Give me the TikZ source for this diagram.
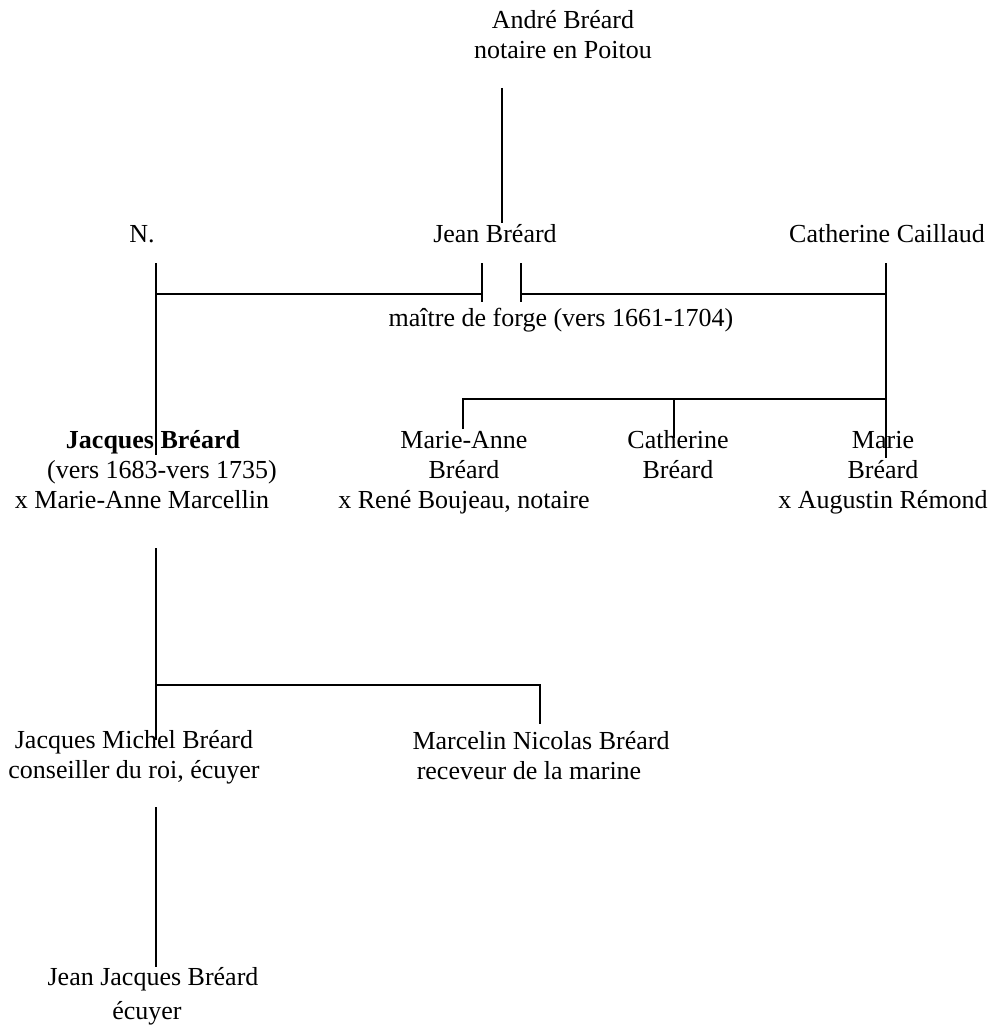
\documentclass[tikz,border=0pt]{standalone}
\usepackage{fontspec}
\setmainfont{Liberation Serif}
\usetikzlibrary{positioning}

\begin{document}
\begin{tikzpicture}[>=stealth, x=1pt, y=-1pt,
		every node/.style={inner sep=0pt, anchor=base, align=center, font=\fontsize{26}{30}\selectfont},
		trait/.style={line width=1.8pt}]
	\useasboundingbox (0,0) rectangle (994,1032);
	%coordinates
	\coordinate (AndreB)   at (502,88);
	\coordinate (JeanH)    at (502,223);
	\coordinate (NH)       at (156,263);
	\coordinate (NB)       at (156,455);
	\coordinate (CoupGH)   at (482,263);
	\coordinate (CoupG)    at (482,294);
	\coordinate (CoupGB)   at (482,302);
	\coordinate (CoupDH)   at (521,263);
	\coordinate (CoupD)    at (521,294);
	\coordinate (CoupDB)   at (521,302);
	\coordinate (CathH)    at (886,263);
	\coordinate (CathB)    at (886,458);
	\coordinate (SoeurG)   at (463,399);
	\coordinate (SoeurGB)  at (463,429);
	\coordinate (SoeurM)   at (674,399);
	\coordinate (SoeurMB)  at (674,438);
	\coordinate (JacqH)    at (156,548);
	\coordinate (JacqB)    at (156,740);
	\coordinate (FilsD)    at (540,685);
	\coordinate (FilsDB)   at (540,724);
	\coordinate (PetitH)   at (156,807);
	\coordinate (PetitB)   at (156,967);
	
	%nodes (base = last line)
	\node (andre)     at (563,59)  {André Bréard\\notaire en Poitou};
	\node (n)         at (142,243) {N.};
	\node (jean)      at (495,243) {Jean Bréard};
	\node (caillaud)  at (887,243) {Catherine Caillaud};
	\node (maitre)    at (561,326) {maître de forge (vers 1661-1704)};
	\node (jacques)   at (153,508) {\textbf{Jacques Bréard}\\\hspace*{18pt}(vers 1683-vers 1735)\\x Marie-Anne Marcellin\hspace*{22pt}};
	\node (marieanne) at (464,508) {Marie-Anne\\Bréard\\x René Boujeau, notaire};
	\node (catherine) at (678,478) {Catherine\\Bréard};
	\node (marie)     at (883,508) {Marie\\Bréard\\x Augustin Rémond};
	\node (jmichel)   at (134,778) {Jacques Michel Bréard\\conseiller du roi, écuyer};
	\node (marcelin)  at (541,779) {Marcelin Nicolas Bréard\\receveur de la marine\hspace*{24pt}};
	\node (jjacques)  at (153,1019) {Jean Jacques Bréard\\[4pt]écuyer\hspace*{12pt}};
	
	\draw[trait] (AndreB) -- (JeanH);
	\draw[trait] (NH) -- (NB);
	\draw[trait] (NH |- CoupG) -- (CoupG);
	\draw[trait] (CoupGH) -- (CoupGB);
	\draw[trait] (CoupDH) -- (CoupDB);
	\draw[trait] (CoupD) -- (CoupD -| CathH);
	\draw[trait] (CathH) -- (CathB);
	\draw[trait] (SoeurGB) -- (SoeurG) -- (SoeurG -| CathH);
	\draw[trait] (SoeurM) -- (SoeurMB);
	\draw[trait] (JacqH) -- (JacqB);
	\draw[trait] (JacqH |- FilsD) -- (FilsD) -- (FilsDB);
	\draw[trait] (PetitH) -- (PetitB);
\end{tikzpicture}
\end{document}
